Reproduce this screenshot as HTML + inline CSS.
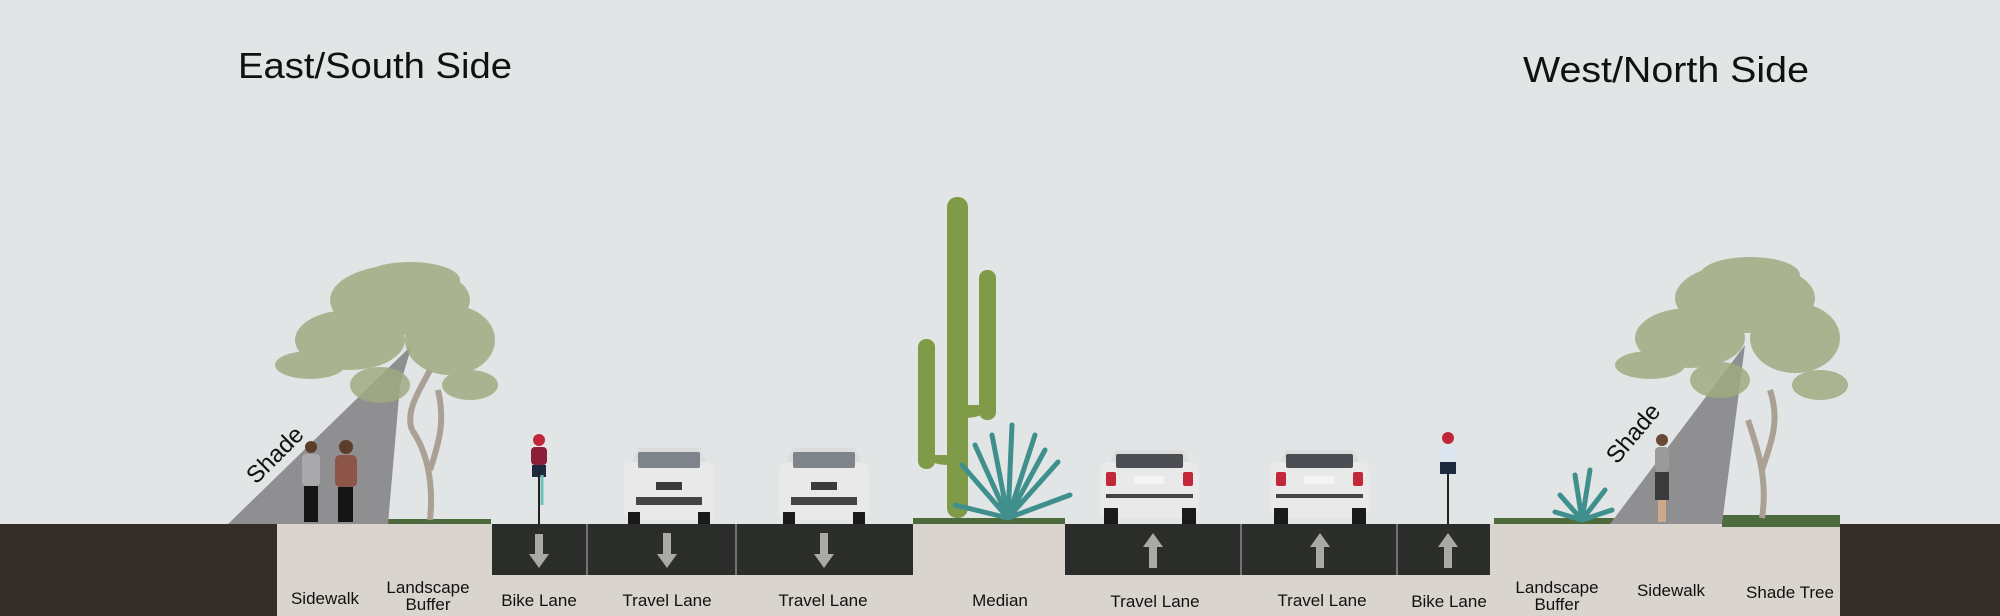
<!DOCTYPE html>
<html><head><meta charset="utf-8"><style>
html,body{margin:0;padding:0;background:#e1e5e6;}
svg{display:block}
text{font-family:"Liberation Sans",sans-serif;}
</style></head><body>
<svg width="2000" height="616" viewBox="0 0 2000 616" xmlns="http://www.w3.org/2000/svg">
<rect width="2000" height="616" fill="#e1e5e6"/>
<text x="238" y="78" font-size="36" fill="#111" textLength="274" lengthAdjust="spacingAndGlyphs">East/South Side</text>
<text x="1523" y="82" font-size="36" fill="#111" textLength="286" lengthAdjust="spacingAndGlyphs">West/North Side</text>

<rect x="0" y="524" width="277" height="92" fill="#352d28"/>
<rect x="1840" y="524" width="160" height="92" fill="#352d28"/>
<rect x="277" y="524" width="1563" height="92" fill="#d9d4cd"/>
<rect x="492" y="524" width="421" height="51" fill="#2b2d2b"/>
<rect x="1065" y="524" width="425" height="51" fill="#2b2d2b"/>
<g stroke="#8a8a8a" stroke-width="1.5">
<line x1="587" y1="524" x2="587" y2="575"/><line x1="736" y1="524" x2="736" y2="575"/>
<line x1="1241" y1="524" x2="1241" y2="575"/><line x1="1397" y1="524" x2="1397" y2="575"/>
</g>
<g fill="#a9a9a7">
<g transform="translate(539,0)"><rect x="-4" y="534" width="8" height="22"/><polygon points="-10,554 10,554 0,568"/></g>
<g transform="translate(667,0)"><rect x="-4" y="533" width="8" height="23"/><polygon points="-10,554 10,554 0,568"/></g>
<g transform="translate(824,0)"><rect x="-4" y="533" width="8" height="23"/><polygon points="-10,554 10,554 0,568"/></g>
<g transform="translate(1153,0)"><rect x="-4" y="545" width="8" height="23"/><polygon points="-10,547 10,547 0,533"/></g>
<g transform="translate(1320,0)"><rect x="-4" y="545" width="8" height="23"/><polygon points="-10,547 10,547 0,533"/></g>
<g transform="translate(1448,0)"><rect x="-4" y="545" width="8" height="23"/><polygon points="-10,547 10,547 0,533"/></g>
</g>
<g fill="#4e6b3e">
<rect x="374" y="519" width="117" height="5"/>
<rect x="913" y="518" width="152" height="6"/>
<rect x="1494" y="518" width="120" height="6"/>
<rect x="1722" y="515" width="118" height="12"/>
</g>

<polygon points="228,524 412,345 400,385 388,524" fill="#8f8f91"/>
<polygon points="1610,524 1745,345 1722,524" fill="#8f8f91"/>
<text transform="translate(256,485) rotate(-45)" font-size="24" fill="#111">Shade</text>
<text transform="translate(1617,465) rotate(-50)" font-size="24" fill="#111">Shade</text>

<!-- left tree -->
<path d="M430,520 C434,480 426,450 412,430 M430,470 C440,440 445,420 438,390 M412,430 C405,410 420,390 430,370" stroke="#aaa093" stroke-width="6" fill="none"/>
<g fill="#a0ab80" opacity="0.85">
<ellipse cx="400" cy="300" rx="70" ry="35"/><ellipse cx="350" cy="340" rx="55" ry="30"/>
<ellipse cx="450" cy="340" rx="45" ry="35"/><ellipse cx="410" cy="280" rx="50" ry="18"/>
<ellipse cx="310" cy="365" rx="35" ry="14"/><ellipse cx="470" cy="385" rx="28" ry="15"/>
<ellipse cx="380" cy="385" rx="30" ry="18"/>
</g>
<!-- right tree -->
<path d="M1762,518 C1768,480 1758,450 1748,420 M1762,470 C1772,440 1780,420 1770,390" stroke="#aaa093" stroke-width="6" fill="none"/>
<g fill="#a0ab80" opacity="0.85">
<ellipse cx="1745" cy="298" rx="70" ry="35"/><ellipse cx="1690" cy="338" rx="55" ry="30"/>
<ellipse cx="1795" cy="338" rx="45" ry="35"/><ellipse cx="1750" cy="275" rx="50" ry="18"/>
<ellipse cx="1650" cy="365" rx="35" ry="14"/><ellipse cx="1820" cy="385" rx="28" ry="15"/>
<ellipse cx="1720" cy="380" rx="30" ry="18"/>
</g>

<g>
<circle cx="311" cy="447" r="6" fill="#5b3d2a"/><rect x="302" y="454" width="18" height="32" rx="4" fill="#a9a9ab"/><rect x="304" y="486" width="14" height="36" fill="#151515"/>
<circle cx="346" cy="447" r="7" fill="#5b3d2a"/><rect x="335" y="455" width="22" height="32" rx="5" fill="#8c5548"/><rect x="338" y="487" width="15" height="35" fill="#151515"/>
<circle cx="1662" cy="440" r="6" fill="#6b4a35"/><rect x="1655" y="447" width="14" height="25" rx="4" fill="#9a9a9a"/><rect x="1655" y="472" width="14" height="28" fill="#3a3a3a"/><rect x="1658" y="500" width="8" height="22" fill="#cba98b"/>
</g>
<g>
<circle cx="539" cy="440" r="6" fill="#c0283a"/><rect x="531" y="447" width="16" height="18" rx="4" fill="#8c2038"/><rect x="532" y="465" width="14" height="12" fill="#1d2a40"/><line x1="539" y1="470" x2="539" y2="524" stroke="#222" stroke-width="2"/><line x1="542" y1="475" x2="542" y2="505" stroke="#6ec3b8" stroke-width="3"/>
<circle cx="1448" cy="438" r="6" fill="#c0283a"/><rect x="1439" y="445" width="18" height="18" rx="4" fill="#dbe6f0"/><rect x="1440" y="462" width="16" height="12" fill="#1d2a40"/><line x1="1448" y1="470" x2="1448" y2="524" stroke="#222" stroke-width="2"/>
</g>

<g id="carf">
<rect x="624" y="462" width="90" height="58" rx="8" fill="#e9e9ea"/>
<path d="M632,462 L638,448 L700,448 L706,462 Z" fill="#dcdcdd"/>
<rect x="638" y="452" width="62" height="16" rx="2" fill="#7e848a"/>
<rect x="656" y="482" width="26" height="8" fill="#3b3b3b"/>
<rect x="636" y="497" width="66" height="8" fill="#444"/>
<rect x="628" y="512" width="12" height="12" fill="#1a1a1a"/><rect x="698" y="512" width="12" height="12" fill="#1a1a1a"/>
</g>
<use href="#carf" x="155"/>
<g id="carr">
<rect x="1100" y="462" width="99" height="56" rx="8" fill="#e9e9ea"/>
<path d="M1110,462 L1116,450 L1183,450 L1189,462 Z" fill="#dcdcdd"/>
<rect x="1116" y="454" width="67" height="14" rx="2" fill="#4a4e52"/>
<rect x="1106" y="472" width="10" height="14" rx="2" fill="#c2283a"/><rect x="1183" y="472" width="10" height="14" rx="2" fill="#c2283a"/>
<rect x="1134" y="476" width="30" height="8" fill="#f4f4f4"/>
<rect x="1106" y="494" width="87" height="4" fill="#444"/>
<rect x="1104" y="508" width="14" height="16" fill="#1a1a1a"/><rect x="1182" y="508" width="14" height="16" fill="#1a1a1a"/>
</g>
<use href="#carr" x="170"/>

<g fill="#7f9b47">
<rect x="947" y="197" width="21" height="321" rx="10"/>
<rect x="979" y="270" width="17" height="150" rx="8"/>
<rect x="918" y="339" width="17" height="130" rx="8"/>
<path d="M926,455 Q928,465 950,465 L950,455 Z"/>
<path d="M988,405 Q986,418 965,418 L965,405 Z"/>
</g>
<g stroke="#3f8f8c" stroke-width="5" fill="none" stroke-linecap="round">
<path d="M1008,518 L992,435 M1008,518 L1012,425 M1008,518 L1035,435 M1008,518 L962,465 M1008,518 L1058,462 M1008,518 L955,505 M1008,518 L1070,495 M1008,518 L975,445 M1008,518 L1045,450"/>
<path d="M1582,520 L1575,475 M1582,520 L1590,470 M1582,520 L1605,490 M1582,520 L1560,495 M1582,520 L1612,510 M1582,520 L1555,512"/>
</g>

<g font-size="17" fill="#111" text-anchor="middle">
<text x="325" y="604">Sidewalk</text>
<text x="428" y="593">Landscape</text><text x="428" y="610">Buffer</text>
<text x="539" y="606">Bike Lane</text>
<text x="667" y="606">Travel Lane</text>
<text x="823" y="606">Travel Lane</text>
<text x="1000" y="606">Median</text>
<text x="1155" y="607">Travel Lane</text>
<text x="1322" y="606">Travel Lane</text>
<text x="1449" y="607">Bike Lane</text>
<text x="1557" y="593">Landscape</text><text x="1557" y="610">Buffer</text>
<text x="1671" y="596">Sidewalk</text>
<text x="1790" y="598">Shade Tree</text>
</g>
</svg>
</body></html>
